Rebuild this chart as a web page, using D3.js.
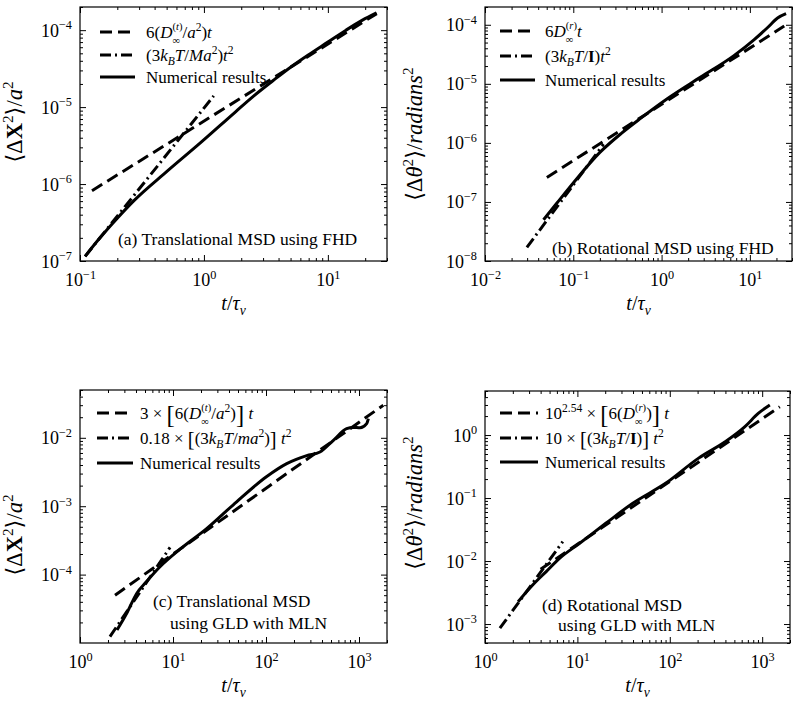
<!DOCTYPE html>
<html><head><meta charset="utf-8">
<script src="https://cdn.jsdelivr.net/npm/d3@7"></script>
<style>body{margin:0;background:#fff}svg{display:block}</style>
</head><body>
<svg id="fig" width="800" height="702"></svg>
<script>
// ---------------- data ----------------
// panel (a) translational MSD, FHD
const aXTicks = [-1, 0, 1];
const aYTicks = [-7, -6, -5, -4];
const aDashed = [[0.125, 8.2e-7], [24.8, 1.64e-4]];
const aDashDot = [[0.11, 1.15e-7], [1.2, 1.4e-5]];
const aNumerical = [[0.11,1.15e-7],[0.145,2.0e-7],[0.2,3.6e-7],[0.27,6.0e-7],[0.5,1.45e-6],[0.93,3.4e-6],[1.8,8.7e-6],[2.5,1.38e-5],[3.6,2.2e-5],[5,3.3e-5],[7,4.8e-5],[10,7.0e-5],[14,1.0e-4],[19,1.35e-4],[24.7,1.68e-4]];
// panel (b) rotational MSD, FHD
const bXTicks = [-2, -1, 0, 1];
const bYTicks = [-8, -7, -6, -5, -4];
const bDashed = [[0.0502, 2.6e-7], [24.5, 9.5e-5]];
const bDashDot = [[0.0298, 1.7e-8], [0.22, 9.5e-7]];
const bNumerical = [[0.046,5.0e-8],[0.065,9.5e-8],[0.1,2.1e-7],[0.2,6.9e-7],[0.35,1.45e-6],[0.577,2.6e-6],[1.16,5.6e-6],[2.77,1.3e-5],[6.6,3.0e-5],[11.2,5.6e-5],[15.9,9.0e-5],[20.6,1.3e-4],[25.7,1.54e-4]];
// panel (c) translational MSD, GLD with MLN
const cXTicks = [0, 1, 2, 3];
const cYTicks = [-4, -3, -2];
const cDashed = [[2.38, 5.0e-5], [1825, 3.0e-2]];
const cDashDot = [[2.1, 1.24e-5], [9.3, 2.5e-4]];
const cNumerical = [[2.5,1.55e-5],[3.17,2.7e-5],[4.07,5.3e-5],[5.2,7.9e-5],[7.25,1.3e-4],[11.9,2.35e-4],[23,4.7e-4],[44.5,1.05e-3],[101,2.7e-3],[167,4.2e-3],[274,5.5e-3],[380,6.2e-3],[530,9.2e-3],[736,1.36e-2],[869,1.42e-2],[1026,1.4e-2],[1210,1.61e-2],[1260,1.9e-2]];
// panel (d) rotational MSD, GLD with MLN
const dXTicks = [0, 1, 2, 3];
const dYTicks = [-3, -2, -1, 0];
const dDashed = [[4, 7.4e-3], [1550, 2.8]];
const dDashDot = [[1.45, 8.6e-4], [6.95, 0.0203]];
const dNumerical = [[2.28,2.26e-3],[3.3,4.2e-3],[4.6,6.8e-3],[6.4,0.011],[10.5,0.019],[20.3,0.0397],[39.4,0.082],[90,0.171],[205,0.43],[397,0.78],[651,1.36],[906,2.2],[1210,3.0]];

// ---------------- drawing ----------------
const FONT = "'Liberation Serif','DejaVu Serif',serif";
const svg = d3.select('#fig').attr('font-family', FONT);

function rich(sel, parts, fs) {
  let cur = 0, pend = 0;
  const small = fs * 0.68, up = -fs * 0.4, dn = fs * 0.25;
  function seg(q, shift, size) {
    if (typeof q === 'string') q = {t: q};
    const t = sel.append('tspan').text(q.t).attr('font-size', size);
    if (shift !== cur) { t.attr('dy', shift - cur); cur = shift; }
    if (pend) { t.attr('dx', pend); pend = 0; }
    if (q.i) t.attr('font-style', 'italic');
    if (q.b) t.attr('font-weight', 'bold');
    return t.node().getComputedTextLength();
  }
  parts.forEach(p => {
    if (typeof p === 'string') p = {t: p};
    if (p.stack) {
      let w1 = 0; p.stack[0].forEach(q => w1 += seg(q, -fs * 0.5, fs * 0.62));
      pend = -w1;
      let w2 = 0; p.stack[1].forEach(q => w2 += seg(q, fs * 0.36, fs * 0.62));
      pend = Math.max(0, w1 - w2);
    } else {
      const shift = p.dy != null ? p.dy : p.sup ? up : p.sub ? dn : 0;
      const size = p.fs ? p.fs * fs : (p.sup || p.sub ? small : fs);
      seg(p, shift, size);
    }
  });
}
const expStr = d => { const e = Math.round(Math.log10(d)); return e < 0 ? '\u2212' + (-e) : '' + e; };
function minors(dom) {
  const out = [];
  for (let k = Math.floor(Math.log10(dom[0])); k <= Math.ceil(Math.log10(dom[1])); k++)
    for (let m = 2; m <= 9; m++) { const v = m * Math.pow(10, k); if (v >= dom[0] && v <= dom[1]) out.push(v); }
  return out;
}

const DASH = '12,6', DASHDOT = '11,4,2,4';
const D_INF = (s) => [{t:'D', i:1}, {stack: [['(', {t:s, i:1}, ')'], ['\u221E']]}];

function panel(c) {
  const x = d3.scaleLog().domain(c.xd).range([c.l, c.r]);
  const y = d3.scaleLog().domain(c.yd).range([c.b, c.t]);
  const g = svg.append('g');
  const majX = c.xt.map(e => Math.pow(10, e)), majY = c.yt.map(e => Math.pow(10, e));
  const minX = minors(c.xd), minY = minors(c.yd);
  const ax = (gen, vals, size, tr) => {
    const a = g.append('g').attr('transform', tr)
      .call(gen.tickValues(vals).tickSizeInner(-size).tickSizeOuter(0).tickFormat(() => ''));
    a.select('.domain').remove();
    a.attr('font-family', FONT);
    return a;
  };
  const gb = ax(d3.axisBottom(x), majX, 6, `translate(0,${c.b})`);
  ax(d3.axisBottom(x), minX, 3, `translate(0,${c.b})`).selectAll('text').remove();
  ax(d3.axisTop(x), majX, 6, `translate(0,${c.t})`).selectAll('text').remove();
  ax(d3.axisTop(x), minX, 3, `translate(0,${c.t})`).selectAll('text').remove();
  const gl = ax(d3.axisLeft(y), majY, 6, `translate(${c.l},0)`);
  ax(d3.axisLeft(y), minY, 3, `translate(${c.l},0)`).selectAll('text').remove();
  ax(d3.axisRight(y), majY, 6, `translate(${c.r},0)`).selectAll('text').remove();
  ax(d3.axisRight(y), minY, 3, `translate(${c.r},0)`).selectAll('text').remove();
  gb.selectAll('.tick text').each(function(d) {
    const s = d3.select(this).attr('y', 25).attr('dy', null).attr('fill', '#000');
    rich(s, ['10', {t: expStr(d), sup: 1}], 18);
  });
  gl.selectAll('.tick text').each(function(d) {
    const s = d3.select(this).attr('x', -8).attr('dy', null).attr('y', 6).attr('fill', '#000');
    rich(s, ['10', {t: expStr(d), sup: 1}], 18);
  });
  g.append('rect').attr('x', c.l).attr('y', c.t).attr('width', c.r - c.l).attr('height', c.b - c.t)
    .attr('fill', 'none').attr('stroke', '#000').attr('stroke-width', 1.2);

  const line = d3.line().x(d => x(d[0])).y(d => y(d[1])).curve(d3.curveMonotoneX);
  const series = [[c.dashed, DASH], [c.dashdot, DASHDOT], [c.num, null]];
  series.forEach(([data, dash]) => {
    g.append('path').datum(data).attr('d', line).attr('fill', 'none').attr('stroke', '#000')
      .attr('stroke-width', 3).attr('stroke-dasharray', dash);
  });
  // legend
  c.leg.forEach((parts, i) => {
    const yy = c.legY[i];
    g.append('line').attr('x1', c.legX[0]).attr('x2', c.legX[1]).attr('y1', yy).attr('y2', yy)
      .attr('stroke', '#000').attr('stroke-width', 3).attr('stroke-dasharray', series[i][1]);
    rich(g.append('text').attr('x', c.legX[2]).attr('y', yy + 6), parts, 17);
  });
  // annotation
  c.note.forEach((n) => {
    g.append('text').attr('x', n[1]).attr('y', n[2]).attr('font-size', 17.5).text(n[0]);
  });
  // axis labels
  rich(g.append('text').attr('x', (c.l + c.r) / 2).attr('y', c.b + 49).attr('text-anchor', 'middle'),
    [{t:'t', i:1}, '/', {t:'\u03C4', i:1}, {t:'\u03BD', i:1, sub:1}], 20);
  rich(g.append('text').attr('transform', `translate(${c.ylx},${c.yly}) rotate(-90)`).attr('text-anchor', 'middle'),
    c.ylab, 22.5);
}

const legA = [
  ['6(', ...D_INF('t'), '/', {t:'a', i:1}, {t:'2', sup:1}, ')', {t:'t', i:1}],
  ['(3', {t:'k', i:1}, {t:'B', i:1, sub:1}, {t:'T', i:1}, '/', {t:'Ma', i:1}, {t:'2', sup:1}, ')', {t:'t', i:1}, {t:'2', sup:1}],
  ['Numerical results']
];
const legB = [
  ['6', ...D_INF('r'), {t:'t', i:1}],
  ['(3', {t:'k', i:1}, {t:'B', i:1, sub:1}, {t:'T', i:1}, '/', {t:'I', b:1}, ')', {t:'t', i:1}, {t:'2', sup:1}],
  ['Numerical results']
];
const legC = [
  ['3 \u00D7 ', {t:'[', fs:1.45, dy:4}, '6(', ...D_INF('t'), '/', {t:'a', i:1}, {t:'2', sup:1}, ')', {t:']', fs:1.45, dy:4}, ' ', {t:'t', i:1}],
  ['0.18 \u00D7 ', {t:'[', fs:1.2, dy:2}, '(3', {t:'k', i:1}, {t:'B', i:1, sub:1}, {t:'T', i:1}, '/', {t:'ma', i:1}, {t:'2', sup:1}, ')', {t:']', fs:1.2, dy:2}, ' ', {t:'t', i:1}, {t:'2', sup:1}],
  ['Numerical results']
];
const legD = [
  ['10', {t:'2.54', sup:1}, ' \u00D7 ', {t:'[', fs:1.45, dy:4}, '6(', ...D_INF('r'), ')', {t:']', fs:1.45, dy:4}, ' ', {t:'t', i:1}],
  ['10 \u00D7 ', {t:'[', fs:1.2, dy:2}, '(3', {t:'k', i:1}, {t:'B', i:1, sub:1}, {t:'T', i:1}, '/', {t:'I', b:1}, ')', {t:']', fs:1.2, dy:2}, ' ', {t:'t', i:1}, {t:'2', sup:1}],
  ['Numerical results']
];
const ylabX = ['\u27E8\u0394', {t:'X', b:1}, {t:'2', sup:1}, '\u27E9/', {t:'a', i:1}, {t:'2', sup:1}];
const ylabT = ['\u27E8\u0394', {t:'\u03B8', i:1}, {t:'2', sup:1}, '\u27E9/', {t:'radians', i:1}, {t:'2', sup:1}];

panel({l:80, r:387, t:7, b:261, xd:[0.1, 30], yd:[1e-7, 2e-4], xt:aXTicks, yt:aYTicks,
  dashed:aDashed, dashdot:aDashDot, num:aNumerical, leg:legA, legX:[100, 135, 146], legY:[32, 55, 77],
  note:[['(a) Translational MSD using FHD', 118, 245]], ylab:ylabX, ylx:22, yly:122});
panel({l:485, r:792, t:7, b:261, xd:[0.01, 30], yd:[1e-8, 2e-4], xt:bXTicks, yt:bYTicks,
  dashed:bDashed, dashdot:bDashDot, num:bNumerical, leg:legB, legX:[500, 535, 545], legY:[31, 56, 80],
  note:[['(b) Rotational MSD using FHD', 552, 254]], ylab:ylabT, ylx:422, yly:134});
panel({l:80, r:387, t:390, b:643, xd:[1, 2000], yd:[1e-5, 0.05], xt:cXTicks, yt:cYTicks,
  dashed:cDashed, dashdot:cDashDot, num:cNumerical, leg:legC, legX:[97, 133, 140], legY:[413, 438, 463],
  note:[['(c) Translational MSD', 153, 607], ['using GLD with MLN', 170, 629]], ylab:ylabX, ylx:22, yly:535});
panel({l:485, r:790, t:391, b:643, xd:[1, 2000], yd:[5e-4, 5], xt:dXTicks, yt:dYTicks,
  dashed:dDashed, dashdot:dDashDot, num:dNumerical, leg:legD, legX:[500, 538, 545], legY:[413, 438, 462],
  note:[['(d) Rotational MSD', 542, 611], ['using GLD with MLN', 558, 631]], ylab:ylabT, ylx:422, yly:503});
</script>
</body></html>
